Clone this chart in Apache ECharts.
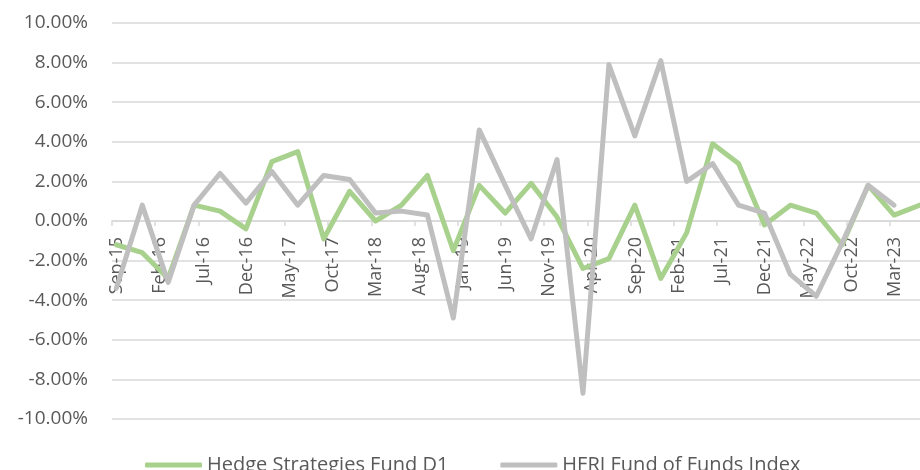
<!DOCTYPE html>
<html>
<head>
<meta charset="utf-8">
<script src="https://cdn.jsdelivr.net/npm/echarts@6/dist/echarts.min.js"></script>
<style>
    html, body { margin: 0; padding: 0; background: #fff; }
    #main { width: 920px; height: 470px; }
</style>
</head>
<body>
<div id="main"></div>
<script>
// quarterly dates (month index counted from Sep-15)
var quarters = ['2015-09', '2015-12', '2016-03', '2016-06', '2016-09', '2016-12', '2017-03', '2017-06',
    '2017-09', '2017-12', '2018-03', '2018-06', '2018-09', '2018-12', '2019-03', '2019-06',
    '2019-09', '2019-12', '2020-03', '2020-06', '2020-09', '2020-12', '2021-03', '2021-06',
    '2021-09', '2021-12', '2022-03', '2022-06', '2022-09', '2022-12', '2023-03', '2023-06']

// returns in %
var hedgeD1 = [-1.2, -1.6, -2.9, 0.8, 0.5, -0.4, 3.0, 3.5,
    -0.9, 1.5, 0.0, 0.8, 2.3, -1.5, 1.8, 0.4,
    1.9, 0.2, -2.4, -1.9, 0.8, -2.9, -0.6, 3.9,
    2.9, -0.2, 0.8, 0.4, -1.2, 1.8, 0.3, 0.8]
var hfriFof = [-3.4, 0.8, -3.1, 0.8, 2.4, 0.9, 2.5, 0.8,
    2.3, 2.1, 0.4, 0.5, 0.3, -4.9, 4.6, 1.8,
    -0.9, 3.1, -8.7, 7.9, 4.3, 8.1, 2.0, 2.9,
    0.8, 0.4, -2.7, -3.8, -1.1, 1.8, 0.8]

// axis labels, one every 5 months
var xLabels = ['Sep-15', 'Feb-16', 'Jul-16', 'Dec-16', 'May-17', 'Oct-17', 'Mar-18', 'Aug-18',
    'Jan-19', 'Jun-19', 'Nov-19', 'Apr-20', 'Sep-20', 'Feb-21', 'Jul-21', 'Dec-21',
    'May-22', 'Oct-22', 'Mar-23']

var names = ['Hedge Strategies Fund D1', 'HFRI Fund of Funds Index']

function monthIndex (s) {
    var p = s.split('-')
    return (parseInt(p[0]) - 2015) * 12 + parseInt(p[1]) - 9
}

// points sit in the middle of their month
function toPoints (vals) {
    return vals.map(function (v, i) { return [monthIndex(quarters[i]) + 0.5, v] })
}

var textColor = '#595959'
var gridColor = '#d9d9d9'
var font = 'Open Sans'

var myChart = echarts.init(document.getElementById('main'))
myChart.setOption({
    animation: false,
    grid: { left: 112, right: 0, top: 23, bottom: 51 },
    legend: {
        data: names,
        left: 140,
        top: 450,
        itemWidth: 57,
        itemHeight: 5,
        itemGap: 52,
        icon: 'roundRect',
        textStyle: { color: textColor, fontFamily: font, fontSize: 20 }
    },
    xAxis: {
        type: 'value',
        min: 0,
        max: 93.5,
        interval: 5,
        // onZero did not take, so pull the axis up to the 0% line (half the grid height)
        offset: -198,
        splitLine: { show: false },
        axisLine: { onZero: false, lineStyle: { color: gridColor, width: 1.5 } },
        axisTick: { show: true, length: 5, lineStyle: { color: gridColor, width: 1.5 } },
        axisLabel: {
            rotate: 90,
            margin: 16,
            // labels sit a little right of their tick in the original
            verticalAlign: 'top',
            lineHeight: 10,
            color: textColor,
            fontFamily: font,
            fontSize: 18,
            showMaxLabel: false,
            formatter: function (v) {
                return v % 5 === 0 ? (xLabels[v / 5] || '') : ''
            }
        }
    },
    yAxis: {
        type: 'value',
        min: -10,
        max: 10,
        interval: 2,
        axisLine: { show: false },
        axisTick: { show: false },
        splitLine: { lineStyle: { color: gridColor, width: 1.5 } },
        axisLabel: {
            margin: 24,
            color: textColor,
            fontFamily: font,
            fontSize: 19,
            formatter: function (v) { return v.toFixed(2) + '%' }
        }
    },
    series: [
        {
            name: names[0],
            type: 'line',
            showSymbol: false,
            data: toPoints(hedgeD1),
            itemStyle: { color: '#a9d18e' },
            lineStyle: { color: '#a9d18e', width: 5, join: 'round', cap: 'round' }
        },
        {
            name: names[1],
            type: 'line',
            showSymbol: false,
            data: toPoints(hfriFof),
            itemStyle: { color: '#bfbfbf' },
            lineStyle: { color: '#bfbfbf', width: 5, join: 'round', cap: 'round' }
        }
    ]
})
</script>
</body>
</html>
